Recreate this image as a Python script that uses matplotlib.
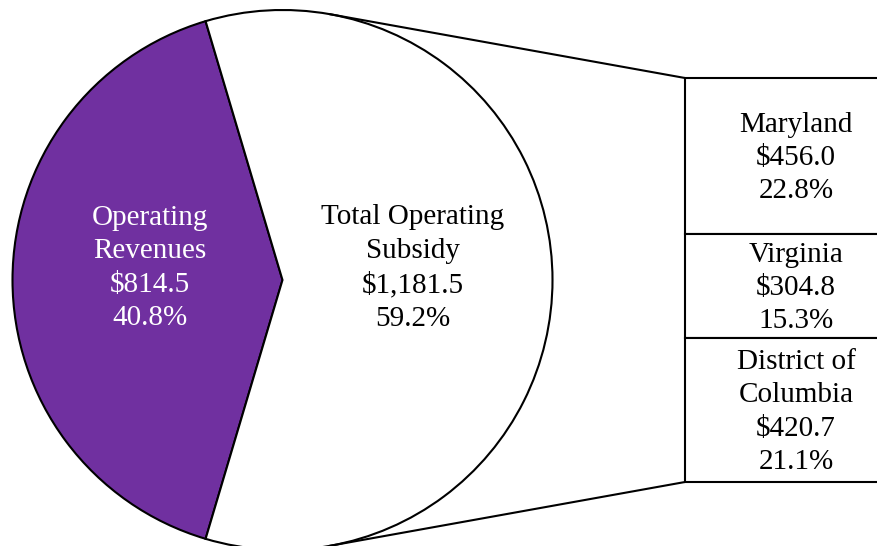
import numpy as np
import matplotlib
matplotlib.use("Agg")
import matplotlib.pyplot as plt

# ---- data ----
pie_labels = ["Operating\nRevenues", "Total Operating\nSubsidy"]
pie_values = [814.5, 1181.5]
pie_pcts = [40.8, 59.2]
pie_colors = ["#7030A0", "#FFFFFF"]
pie_text_colors = ["white", "black"]

bar_labels = ["Maryland", "Virginia", "District of\nColumbia"]
bar_values = [456.0, 304.8, 420.7]
bar_pcts = [22.8, 15.3, 21.1]

plt.rcParams["font.family"] = ["Liberation Serif", "DejaVu Serif"]
FS = 21
LS = 1.37

fig = plt.figure(figsize=(8.78, 5.46), dpi=100)
ax = fig.add_axes([0, 0, 1, 1])

# pie geometry (pixel coordinates, y up)
cx, cy, R = 282.5, 266.0, 270.0
purple_span = 360.0 * pie_values[0] / sum(pie_values)
start = 180.0 - purple_span / 2.0
wedges, _ = ax.pie(pie_values, colors=pie_colors, startangle=start,
                   counterclock=True, center=(cx, cy), radius=R,
                   wedgeprops=dict(edgecolor="black", linewidth=1.5))

# pie labels
label_pos = [(150, 278), (413, 278)]
for lab, v, p, (x, y), c in zip(pie_labels, pie_values, pie_pcts, label_pos, pie_text_colors):
    ax.text(x, y, f"{lab}\n${v:,.1f}\n{p:.1f}%", ha="center", va="center",
            fontsize=FS, color=c, linespacing=LS)

# bar of the subsidy
bar_left, bar_right = 685.0, 890.0
bar_top, bar_bottom = 468.0, 64.0
scale = (bar_top - bar_bottom) / sum(bar_values)
heights = np.array(bar_values) * scale
bottoms = bar_top - np.cumsum(heights)
ax.bar([(bar_left + bar_right) / 2] * len(bar_values), heights, bottom=bottoms,
       width=bar_right - bar_left, color="white", edgecolor="black", linewidth=1.5)
for lab, v, p, b, h in zip(bar_labels, bar_values, bar_pcts, bottoms, heights):
    ax.text(796, b + h / 2 - 2, f"{lab}\n${v:,.1f}\n{p:.1f}%", ha="center", va="center",
            fontsize=FS, color="black", linespacing=LS)

# connector lines
ang = np.deg2rad(80)
ax.plot([cx + R * np.cos(ang), bar_left], [cy + R * np.sin(ang), bar_top],
        color="black", lw=1.5, solid_capstyle="butt")
ax.plot([cx + R * np.cos(ang), bar_left], [cy - R * np.sin(ang), bar_bottom],
        color="black", lw=1.5, solid_capstyle="butt")

ax.set_xlim(0, 878)
ax.set_ylim(0, 546)
ax.set_aspect("auto")
ax.axis("off")
fig.savefig("out.png", dpi=100)
